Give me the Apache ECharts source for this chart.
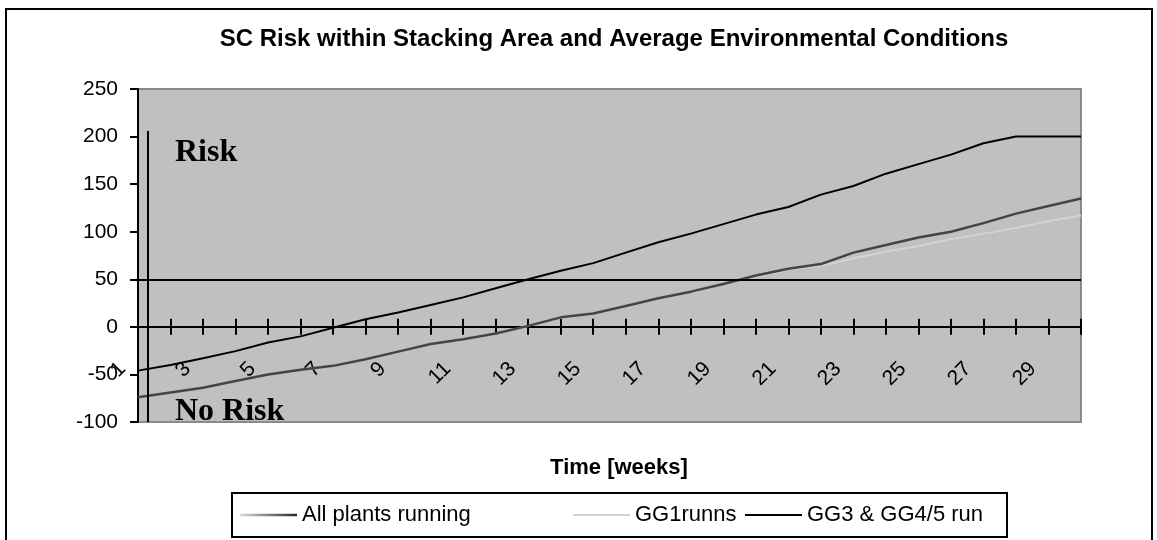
<!DOCTYPE html>
<html>
<head>
<meta charset="utf-8">
<script src="https://cdn.jsdelivr.net/npm/echarts@6/dist/echarts.min.js"></script>
<style>
  html, body { margin: 0; padding: 0; background: #fff; }
  #chart { width: 1157px; height: 540px; }
</style>
</head>
<body>
<div id="chart"></div>
<script>
// Week numbers on the category axis
const weeks = ['1','2','3','4','5','6','7','8','9','10','11','12','13','14','15',
               '16','17','18','19','20','21','22','23','24','25','26','27','28','29','30'];

// SC risk index per week for each operating scenario
const allPlantsRunning = [-74, -69, -64, -57, -50, -45, -41, -34, -26, -18,
                          -13, -7, 1, 10, 14, 22, 30, 37, 45, 54,
                          61, 66, 78, 86, 94, 100, 109, 119, 127, 135];
const gg1Runs = [-74, -69, -64, -57, -50, -45, -41, -34, -26, -18,
                 -13, -7, 1, 10, 14, 22, 30, 37, 45, 53,
                 60, 64, 72, 79, 85, 92, 98, 104, 111, 117];
const gg3Gg45Run = [-46, -40, -33, -25.5, -16.5, -10, -1, 8, 15, 23,
                    31, 40.5, 50, 59, 67, 78, 89, 98, 108, 118,
                    126, 139, 148, 161, 171, 181, 193, 200, 200, 200];

// Risk threshold
const riskThreshold = 50;

// Value-axis tick range
const yMin = -100, yMax = 250, yStep = 50;

const FONT = 'Liberation Sans, Arial, sans-serif';
const SERIF = 'Liberation Serif, Times New Roman, serif';

const chart = echarts.init(document.getElementById('chart'), null, { renderer: 'canvas' });

const legendBase = {
  top: 504, padding: 0, itemWidth: 57, icon: 'rect',
  textStyle: { fontFamily: FONT, fontSize: 22, color: '#000' }
};

const fadeDark = new echarts.graphic.LinearGradient(0, 0, 1, 0, [
  { offset: 0, color: '#d8d8d8' }, { offset: 1, color: '#2a2a2a' }
]);

chart.setOption({
  animation: false,
  backgroundColor: '#fff',
  title: [
    {
      text: 'SC Risk within Stacking Area and Average Environmental Conditions',
      left: 609, top: 22, textAlign: 'center',
      textStyle: { fontFamily: FONT, fontWeight: 'bold', fontSize: 24, color: '#000' }
    },
    {
      text: 'Time [weeks]',
      left: 614, top: 452, textAlign: 'center',
      textStyle: { fontFamily: FONT, fontWeight: 'bold', fontSize: 22, color: '#000' }
    }
  ],
  grid: {
    left: 138, right: 76, top: 89, bottom: 118,
    show: true, backgroundColor: '#c0c0c0', borderColor: '#8a8a8a', borderWidth: 2
  },
  legend: [
    Object.assign({ data: [{ name: 'All plants running', itemStyle: { color: fadeDark } }], left: 240, itemHeight: 2.5 }, legendBase),
    Object.assign({ data: ['GG1runns'], left: 573, itemHeight: 2 }, legendBase),
    Object.assign({ data: ['GG3 & GG4/5 run'], left: 745, itemHeight: 2 }, legendBase)
  ],
  xAxis: [
    {
      type: 'category', data: weeks, boundaryGap: false, position: 'bottom',
      axisLine: { onZero: true, onZeroAxisIndex: 0, lineStyle: { color: '#000', width: 2 } },
      axisTick: { show: true, interval: 0, length: 8, lineStyle: { color: '#000', width: 2 } },
      axisLabel: {
        interval: 1, rotate: 45, margin: -72, align: 'right', verticalAlign: 'middle',
        padding: [0, 22, 0, 0], fontFamily: FONT, fontSize: 21, color: '#000'
      },
      splitLine: { show: false }
    },
    {
      // upper half of the crossing tick marks on the zero line
      type: 'category', data: weeks, boundaryGap: false, position: 'top',
      axisLine: { onZero: true, onZeroAxisIndex: 1, lineStyle: { color: '#000', width: 2 } },
      axisTick: { show: true, interval: 0, length: 8, lineStyle: { color: '#000', width: 2 } },
      axisLabel: { show: false },
      splitLine: { show: false }
    }
  ],
  yAxis: [
    {
      type: 'value', min: yMin, max: yMax, interval: yStep,
      axisLine: { show: true, onZero: false, lineStyle: { color: '#000', width: 2 } },
      axisTick: { show: true, length: 8, lineStyle: { color: '#000', width: 2 } },
      axisLabel: { margin: 20, fontFamily: FONT, fontSize: 21, color: '#000' },
      splitLine: { show: false }
    },
    {
      type: 'value', min: yMin, max: yMax, interval: yStep, position: 'right',
      axisLine: { show: false, onZero: false }, axisTick: { show: false },
      axisLabel: { show: false }, splitLine: { show: false }
    }
  ],
  series: [
    {
      name: 'All plants running', type: 'line', xAxisIndex: 0, yAxisIndex: 0, data: allPlantsRunning,
      symbol: 'none', z: 3,
      lineStyle: { color: '#444', width: 2.5 }, itemStyle: { color: '#444' }
    },
    {
      name: 'GG1runns', type: 'line', xAxisIndex: 0, yAxisIndex: 0, data: gg1Runs,
      symbol: 'none', z: 2,
      lineStyle: { color: '#d2d2d2', width: 2 }, itemStyle: { color: '#d2d2d2' }
    },
    {
      name: 'GG3 & GG4/5 run', type: 'line', xAxisIndex: 0, yAxisIndex: 0, data: gg3Gg45Run,
      symbol: 'none', z: 4,
      lineStyle: { color: '#000', width: 2 }, itemStyle: { color: '#000' },
      markLine: {
        silent: true, symbol: 'none', label: { show: false },
        lineStyle: { color: '#000', width: 2, type: 'solid' },
        data: [{ yAxis: riskThreshold }]
      }
    }
  ],
  graphic: [
    // outer chart frame
    { type: 'rect', z: 0, shape: { x: 6, y: 9, width: 1146, height: 540 },
      style: { fill: 'none', stroke: '#000', lineWidth: 2 } },
    // legend frame
    { type: 'rect', z: 0, shape: { x: 232, y: 493, width: 775, height: 44 },
      style: { fill: 'none', stroke: '#000', lineWidth: 2 } },
    // separator between the zone labels and the plot
    { type: 'line', z: 50, shape: { x1: 148, y1: 131, x2: 148, y2: 422 },
      style: { stroke: '#000', lineWidth: 2 } },
    { type: 'text', z: 50, left: 175, top: 137,
      style: { text: 'Risk', font: 'bold 32px ' + SERIF, fill: '#000' } },
    { type: 'text', z: 50, left: 175, top: 396,
      style: { text: 'No Risk', font: 'bold 32px ' + SERIF, fill: '#000' } }
  ]
});
</script>
</body>
</html>
